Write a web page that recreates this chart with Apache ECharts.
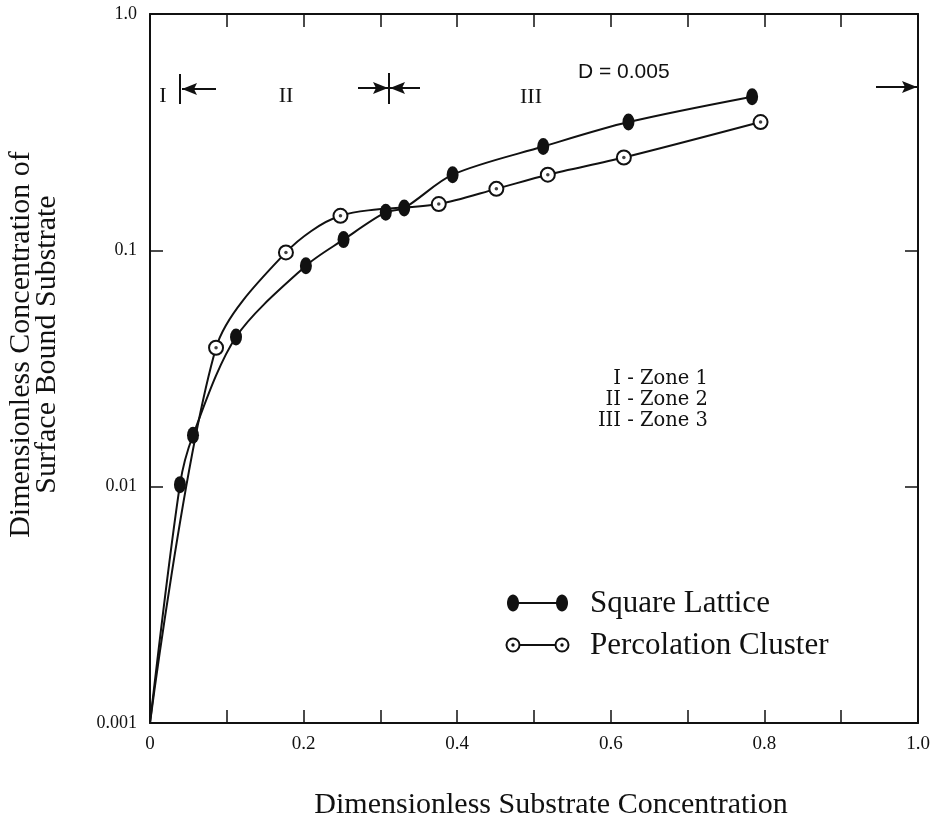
<!DOCTYPE html>
<html>
<head>
<meta charset="utf-8">
<script src="https://cdn.jsdelivr.net/npm/echarts@6/dist/echarts.min.js"></script>
<style>
html,body{margin:0;padding:0;background:#fff;}
#chart{width:942px;height:830px;}
</style>
</head>
<body>
<div id="chart"></div>
<script>
// ---- data ----
const squareX = [0.039, 0.056, 0.112, 0.203, 0.252, 0.307, 0.331, 0.394, 0.512, 0.623, 0.784];
const squareY = [0.0102, 0.0165, 0.043, 0.086, 0.111, 0.145, 0.151, 0.209, 0.275, 0.349, 0.447];
const percX = [0.086, 0.177, 0.248, 0.376, 0.451, 0.518, 0.617, 0.795];
const percY = [0.0387, 0.098, 0.140, 0.157, 0.182, 0.209, 0.247, 0.349];
const origin = [0, 0.001];
const xTickLabels = ['0', '0.2', '0.4', '0.6', '0.8', '1.0'];
const yTickValues = [0.001, 0.01, 0.1, 1];
const yTickLabels = ['0.001', '0.01', '0.1', '1.0'];
const seriesNames = ['Square Lattice', 'Percolation Cluster'];
const zoneNotes = ['I - Zone 1', 'II - Zone 2', 'III - Zone 3'];

const serif = 'Liberation Serif';
const ink = '#111';

function pairs(xs, ys) { return xs.map((x, i) => [x, ys[i]]); }
function withOrigin(xs, ys) {
  return [{ value: origin, symbol: 'none' }].concat(pairs(xs, ys));
}

const chart = echarts.init(document.getElementById('chart'), null, { renderer: 'canvas' });

const axisLineStyle = { color: ink, width: 2 };
const tickStyle = { show: true, inside: true, length: 13, lineStyle: { color: ink, width: 1.5 } };
const option = {
  backgroundColor: '#fff',
  animation: false,
  grid: { left: 150, right: 24, top: 14, bottom: 107, outerBoundsMode: 'none', containLabel: false },
  xAxis: [
    {
      type: 'value', min: 0, max: 1, interval: 0.1, position: 'bottom',
      axisLine: { show: true, onZero: false, lineStyle: axisLineStyle },
      axisTick: tickStyle,
      splitLine: { show: false },
      axisLabel: {
        fontFamily: serif, fontSize: 19, color: ink, margin: 12,
        formatter: function (v) {
          const k = Math.round(v * 10);
          return k % 2 === 0 ? xTickLabels[k / 2] : '';
        }
      },
      name: 'Dimensionless Substrate Concentration',
      nameLocation: 'middle', nameGap: 67,
      nameTextStyle: { fontFamily: serif, fontSize: 30, color: ink, padding: [0, 0, 0, 34] }
    },
    {
      type: 'value', min: 0, max: 1, interval: 0.1, position: 'top',
      axisLine: { show: true, onZero: false, lineStyle: axisLineStyle },
      axisTick: tickStyle,
      splitLine: { show: false },
      axisLabel: { show: false }
    }
  ],
  yAxis: [
    {
      type: 'log', logBase: 10, min: 0.001, max: 1, position: 'left',
      axisLine: { show: true, onZero: false, lineStyle: axisLineStyle },
      axisTick: tickStyle,
      minorTick: { show: false },
      splitLine: { show: false },
      axisLabel: {
        fontFamily: serif, fontSize: 18, color: ink, margin: 13,
        formatter: function (v) {
          const i = yTickValues.findIndex(t => Math.abs(Math.log10(t) - Math.log10(v)) < 1e-6);
          return i >= 0 ? yTickLabels[i] : '';
        }
      },
      name: 'Dimensionless Concentration of\nSurface Bound Substrate',
      nameLocation: 'middle', nameGap: 90, nameRotate: 90,
      nameTextStyle: { fontFamily: serif, fontSize: 30, color: ink, lineHeight: 26, padding: [0, 0, 0, 48] }
    },
    {
      type: 'log', logBase: 10, min: 0.001, max: 1, position: 'right',
      axisLine: { show: true, onZero: false, lineStyle: axisLineStyle },
      axisTick: tickStyle,
      splitLine: { show: false },
      axisLabel: { show: false }
    }
  ],
  series: [
    {
      name: seriesNames[0], type: 'line', smooth: 0.3,
      data: withOrigin(squareX, squareY),
      symbol: 'circle', symbolSize: [12, 17],
      lineStyle: { color: ink, width: 2 },
      itemStyle: { color: ink },
      z: 3
    },
    {
      name: seriesNames[1], type: 'line', smooth: 0.3,
      data: withOrigin(percX, percY),
      symbol: 'circle', symbolSize: 14,
      lineStyle: { color: ink, width: 2 },
      itemStyle: { color: '#fff', borderColor: ink, borderWidth: 2 },
      z: 3
    },
    {
      name: seriesNames[1] + ' dot', type: 'scatter',
      data: pairs(percX, percY),
      symbol: 'circle', symbolSize: 3.5,
      itemStyle: { color: ink },
      z: 5, silent: true
    }
  ],
  graphic: []
};
chart.setOption(option);

// ---- annotations (zone markers, notes, legend) ----
function hline(x1, x2, y, w) { return { type: 'line', shape: { x1: x1, y1: y, x2: x2, y2: y }, style: { stroke: ink, lineWidth: w || 2 } }; }
function vline(x, y1, y2, w) { return { type: 'line', shape: { x1: x, y1: y1, x2: x, y2: y2 }, style: { stroke: ink, lineWidth: w || 2 } }; }
function head(tipX, y, dir) {
  const b = tipX - dir * 15;
  return { type: 'polygon', shape: { points: [[tipX, y], [b, y - 6], [b + dir * 3, y], [b, y + 6]] }, style: { fill: ink } };
}
function txt(x, y, s, size, align, family) {
  return { type: 'text', x: x, y: y, style: { text: s, fontFamily: family || serif, fontSize: size, fill: ink, textAlign: align || 'center', textVerticalAlign: 'middle' } };
}

const g = [];
// Zone I boundary
g.push(vline(180, 74, 104));
g.push(hline(182, 216, 89));
g.push(head(182, 89, -1));
g.push(txt(163, 96, 'I', 22));
g.push(txt(286, 96, 'II', 22));
// Zone II/III boundary
g.push(vline(389, 73, 104));
g.push(hline(358, 420, 88));
g.push(head(388, 88, 1));
g.push(head(390, 88, -1));
g.push(txt(531, 97, 'III', 22));
// Right arrow
g.push(hline(876, 917, 87));
g.push(head(917, 87, 1));
g.push(txt(578, 72, 'D = 0.005', 21, 'left', 'Liberation Sans'));
// Zone notes
zoneNotes.forEach((s, i) => g.push(txt(708, 379 + i * 21, s, 19.5, 'right', 'DejaVu Serif')));
// Legend
function legendRow(y, filled, label) {
  g.push(hline(513, 562, y, 2));
  [513, 562].forEach(cx => {
    if (filled) {
      g.push({ type: 'ellipse', shape: { cx: cx, cy: y, rx: 6, ry: 8.5 }, style: { fill: ink } });
    } else {
      g.push({ type: 'circle', shape: { cx: cx, cy: y, r: 6.5 }, style: { fill: '#fff', stroke: ink, lineWidth: 2 } });
      g.push({ type: 'circle', shape: { cx: cx, cy: y, r: 1.7 }, style: { fill: ink } });
    }
  });
  g.push(txt(590, y + 1, label, 31, 'left'));
}
legendRow(603, true, seriesNames[0]);
legendRow(645, false, seriesNames[1]);

chart.setOption({ graphic: g.map(e => Object.assign({ z: 100 }, e)) });
</script>
</body>
</html>
